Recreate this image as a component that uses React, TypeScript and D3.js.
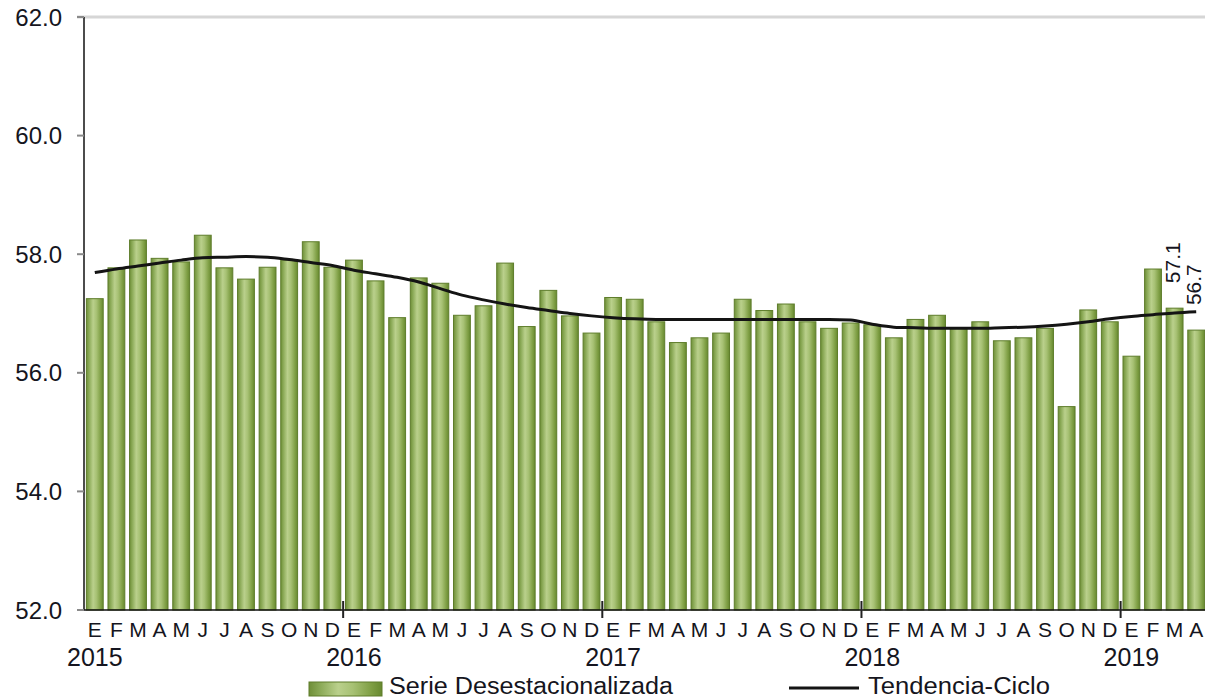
import React from "react";
import * as d3 from "d3";

const years = ["2015", "2016", "2017", "2018", "2019"];
const monthLetters = ["E", "F", "M", "A", "M", "J", "J", "A", "S", "O", "N", "D"];

const serie2015 = [57.25, 57.77, 58.24, 57.93, 57.87, 58.32, 57.77, 57.58, 57.78, 57.9, 58.21, 57.78];
const serie2016 = [57.9, 57.55, 56.93, 57.6, 57.51, 56.97, 57.13, 57.85, 56.78, 57.39, 56.96, 56.67];
const serie2017 = [57.27, 57.24, 56.86, 56.51, 56.59, 56.67, 57.24, 57.05, 57.16, 56.86, 56.75, 56.84];
const serie2018 = [56.81, 56.59, 56.9, 56.97, 56.75, 56.86, 56.54, 56.59, 56.75, 55.43, 57.06, 56.86];
const serie2019 = [56.28, 57.75, 57.09, 56.72];

const tendencia = [
  57.69, 57.75, 57.8, 57.85, 57.9, 57.94, 57.95, 57.96, 57.95, 57.91, 57.86, 57.81,
  57.73, 57.67, 57.61, 57.53, 57.42, 57.31, 57.23, 57.16, 57.1, 57.05, 57.0, 56.96,
  56.93, 56.91, 56.9, 56.9, 56.9, 56.9, 56.9, 56.9, 56.9, 56.9, 56.9, 56.89,
  56.82, 56.77, 56.76, 56.75, 56.75, 56.75, 56.76, 56.77, 56.79, 56.82, 56.86, 56.91,
  56.95, 56.98, 57.01, 57.03,
];

const yTicks = [52, 54, 56, 58, 60, 62];
const labelledLast = 2; // last N bars get value labels
const legendLabels = ["Serie Desestacionalizada", "Tendencia-Ciclo"];

const serie = [...serie2015, ...serie2016, ...serie2017, ...serie2018, ...serie2019];

const FONT = "'Liberation Sans', Arial, sans-serif";
const TEXT = "#151520";

export default function App() {
  const W = 1205;
  const H = 699;
  const left = 84;
  const right = 1207;
  const top = 17;
  const bottom = 610;

  const idx = serie.map((_, i) => i);
  const x = d3.scaleBand<number>().domain(idx).range([left, right]).paddingInner(0.22).paddingOuter(0.11);
  const step = x.step();
  const y = d3.scaleLinear().domain([52, 62]).range([bottom, top]);

  const cx = (i: number) => (x(i) as number) + x.bandwidth() / 2;
  const line = d3
    .line<number>()
    .x((_, i) => cx(i))
    .y((d) => y(d))
    .curve(d3.curveMonotoneX);

  const monthLabel = (i: number) => monthLetters[i % 12];
  const yearStart = (k: number) => left + k * 12 * step;

  return (
    <svg
      width={W}
      height={H}
      style={{ position: "absolute", left: 0, top: 0, background: "#fff" }}
      fontFamily={FONT}
    >
      <defs>
        <linearGradient id="barGrad" x1="0" x2="1" y1="0" y2="0">
          <stop offset="0" stopColor="#6f8f38" />
          <stop offset="0.15" stopColor="#8aa956" />
          <stop offset="0.4" stopColor="#bad08c" />
          <stop offset="0.6" stopColor="#a7c174" />
          <stop offset="0.85" stopColor="#7f9f45" />
          <stop offset="1" stopColor="#678930" />
        </linearGradient>
      </defs>

      {/* top gridline */}
      <line x1={77} x2={W} y1={y(62)} y2={y(62)} stroke="#d6d6d6" strokeWidth={3} />

      {/* bars */}
      {serie.map((v, i) => (
        <rect
          key={i}
          x={x(i)}
          y={y(v)}
          width={x.bandwidth()}
          height={y(52) - y(v)}
          fill="url(#barGrad)"
          stroke="#5e7d2b"
          strokeWidth={1}
        />
      ))}

      {/* trend line */}
      <path d={line(tendencia) || ""} fill="none" stroke="#141414" strokeWidth={3} />

      {/* value labels */}
      {serie.map((v, i) =>
        i >= serie.length - labelledLast ? (
          <text
            key={"l" + i}
            transform={`translate(${cx(i) + 5},${y(v) - 25}) rotate(-90)`}
            fontSize={21}
            fill={TEXT}
          >
            {v.toFixed(1)}
          </text>
        ) : null
      )}

      {/* y axis */}
      <line x1={left} x2={left} y1={top} y2={bottom} stroke="#111" strokeWidth={1.5} />
      {yTicks.map((t) => (
        <g key={t}>
          <line x1={77} x2={left} y1={y(t)} y2={y(t)} stroke="#8a8a8a" strokeWidth={2} />
          <text x={62} y={y(t)} dy="0.36em" textAnchor="end" fontSize={24} fill={TEXT}>
            {t.toFixed(1)}
          </text>
        </g>
      ))}

      {/* x axis */}
      <line x1={left} x2={W} y1={bottom} y2={bottom} stroke="#111" strokeWidth={1.5} />
      {years.slice(1).map((yr, k) => (
        <line
          key={yr}
          x1={yearStart(k + 1)}
          x2={yearStart(k + 1)}
          y1={bottom - 9}
          y2={bottom + 8}
          stroke="#222"
          strokeWidth={2}
        />
      ))}
      {serie.map((_, i) => (
        <text key={"m" + i} x={cx(i)} y={637} textAnchor="middle" fontSize={21} fill={TEXT}>
          {monthLabel(i)}
        </text>
      ))}
      {years.map((yr, k) => (
        <text key={"y" + yr} x={cx(k * 12)} y={666} textAnchor="middle" fontSize={25} fill={TEXT}>
          {yr}
        </text>
      ))}

      {/* legend */}
      <rect x={309} y={682} width={73} height={14} fill="url(#barGrad)" stroke="#5e7d2b" strokeWidth={1} />
      <text x={389} y={694} fontSize={23} textLength={284} lengthAdjust="spacingAndGlyphs" fill={TEXT}>
        {legendLabels[0]}
      </text>
      <line x1={789} x2={859} y1={688} y2={688} stroke="#141414" strokeWidth={3} />
      <text x={868} y={694} fontSize={23} textLength={182} lengthAdjust="spacingAndGlyphs" fill={TEXT}>
        {legendLabels[1]}
      </text>
    </svg>
  );
}
